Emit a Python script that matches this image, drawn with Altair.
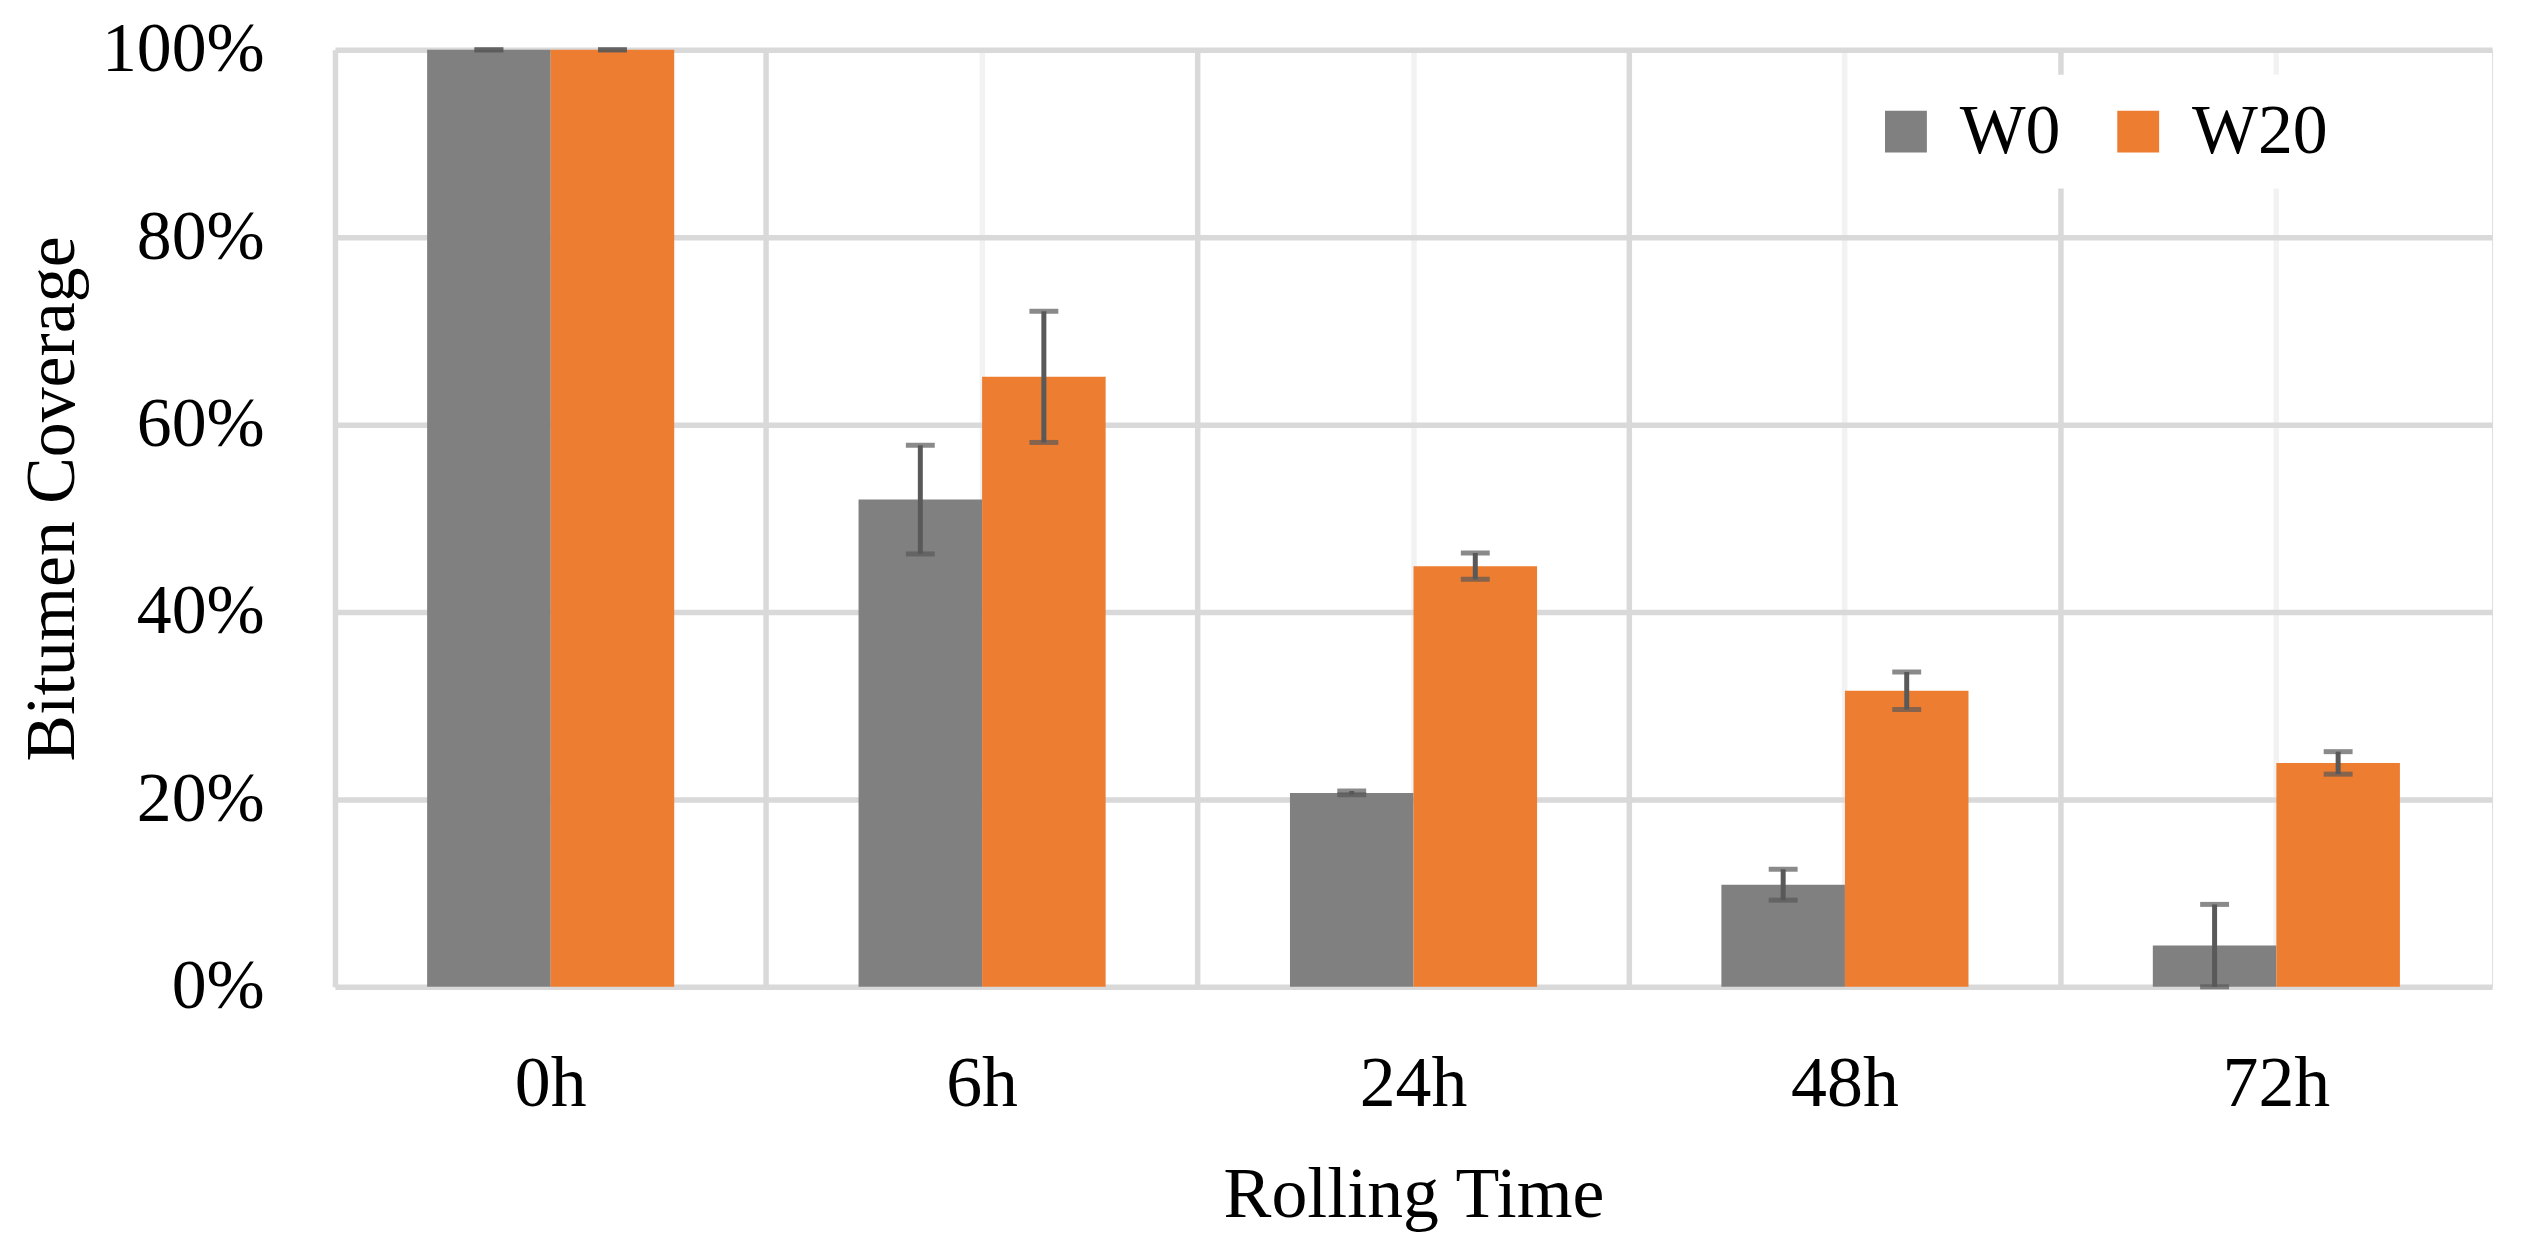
import altair as alt
import pandas as pd

# ---- data ----
times = ["0h", "6h", "24h", "48h", "72h"]
series = ["W0", "W20"]
w0_values = [100.0, 52.0, 20.7, 10.9, 4.4]
w0_errors = [0.0, 5.8, 0.2, 1.65, 4.4]
w20_values = [100.0, 65.1, 44.9, 31.6, 23.9]
w20_errors = [0.0, 7.0, 1.4, 2.0, 1.2]
y_ticks = [0, 20, 40, 60, 80, 100]
colors = ["#808080", "#ED7D31"]

rows = []
for s, vals, errs in [("W0", w0_values, w0_errors), ("W20", w20_values, w20_errors)]:
    for t, v, e in zip(times, vals, errs):
        rows.append({"time": t, "series": s, "value": v, "err_lo": v - e, "err_hi": v + e})
df = pd.DataFrame(rows)

FONT = "Liberation Serif"
W, H = 2164, 940

x_scale = alt.Scale(domain=times, paddingInner=0, paddingOuter=0)
off_scale = alt.Scale(domain=series, paddingInner=0, paddingOuter=0.746)
y_scale = alt.Scale(domain=[0, 100], nice=False)

base = alt.Chart(df)

bars = base.mark_bar().encode(
    x=alt.X("time:N", scale=x_scale, sort=times, axis=alt.Axis(
        title="Rolling Time", bandPosition=0, grid=True, gridColor="#d9d9d9", gridWidth=5.5,
        domain=False, ticks=False, tickSize=0, labelAngle=0, labelFont=FONT, labelFontSize=72,
        labelColor="black", labelPadding=119, labelBaseline="alphabetic",
        titleFont=FONT, titleFontSize=72, titleFontWeight="normal", titleColor="black",
        titleX=W / 2, titleY=230, titleBaseline="alphabetic", titleAlign="center")),
    xOffset=alt.XOffset("series:N", scale=off_scale, sort=series),
    y=alt.Y("value:Q", scale=y_scale, axis=alt.Axis(
        title="Bitumen Coverage", values=y_ticks, labelExpr="datum.value + '%'",
        grid=True, gridColor="#d9d9d9", gridWidth=5.5, domain=False, ticks=False, tickSize=0,
        labelFont=FONT, labelFontSize=70, labelColor="black", labelPadding=71,
        titleFont=FONT, titleFontSize=70, titleFontWeight="normal", titleColor="black",
        titleX=-262, titleY=H / 2 - 20, titleAngle=270, titleBaseline="alphabetic", titleAlign="center")),
    color=alt.Color("series:N", scale=alt.Scale(domain=series, range=colors), legend=alt.Legend(
        title=None, orient="none", legendX=1519, legendY=25, direction="horizontal",
        symbolType="square", symbolSize=1764, symbolStrokeWidth=0,
        labelFont=FONT, labelFontSize=70, labelColor="black", labelOffset=19, labelLimit=0,
        columnPadding=42, fillColor="white", padding=22)),
)

rules = base.mark_rule(color="#595959", strokeWidth=5).encode(
    x=alt.X("time:N", scale=x_scale, sort=times, axis=alt.Axis(
        title=None, bandPosition=0.5, grid=True, gridColor="#f2f2f2", gridWidth=5.5,
        domain=False, ticks=False, labels=False)),
    xOffset=alt.XOffset("series:N", scale=off_scale, sort=series),
    y=alt.Y("err_lo:Q", scale=y_scale, axis=None),
    y2="err_hi:Q",
)

caps = base.transform_fold(["err_lo", "err_hi"], as_=["kind", "val"]).mark_tick(
    color="#595959", thickness=5, size=29
).encode(
    x=alt.X("time:N", scale=x_scale, sort=times, axis=None),
    xOffset=alt.XOffset("series:N", scale=off_scale, sort=series),
    y=alt.Y("val:Q", scale=y_scale, axis=None),
)

chart = alt.layer(bars, rules, caps).resolve_axis(x="independent", y="independent").properties(
    width=W, height=H,
    autosize=alt.AutoSizeParams(type="none"),
    padding={"left": 328, "top": 40, "right": 24, "bottom": 255},
).configure_view(stroke="#d9d9d9", strokeWidth=5.5).configure(background="white")

chart.save("out.html", embed_options={"renderer": "svg", "actions": False})
